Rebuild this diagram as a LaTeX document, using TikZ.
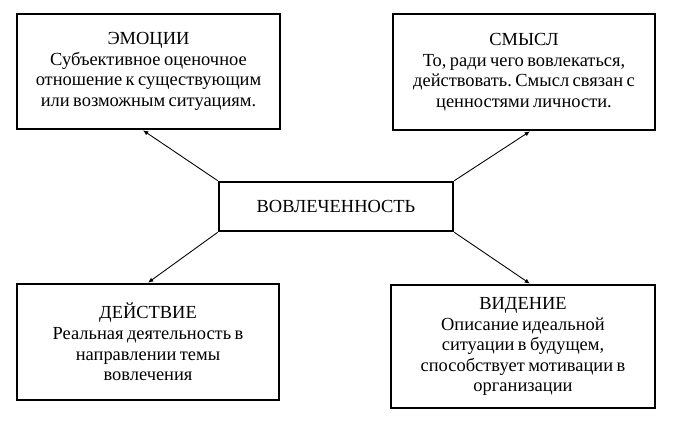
\documentclass[tikz,border=0pt]{standalone}
\usepackage{fontspec}
\setmainfont{Liberation Serif}[WordSpace=0.75]
\usetikzlibrary{arrows.meta}
\frenchspacing

\begin{document}
\begin{tikzpicture}[>={Latex[length=3pt, width=2.6pt]}, font=\fontsize{10.5}{11.7}\selectfont,
  box/.style={draw, line width=1.5pt, align=center, inner sep=0pt},
  link/.style={->, line width=0.5pt}]

% Frame
\useasboundingbox (0,0) rectangle (13.5,8.54);

% Centre
\node[box, minimum width=4.68cm, minimum height=0.98cm] (vovl) at (6.72,4.41) {ВОВЛЕЧЕННОСТЬ};

% Top boxes
\node[box, minimum width=5.26cm, minimum height=2.30cm] (emotsii) at (2.97,7.11)
  {ЭМОЦИИ\\Субъективное оценочное\\отношение к существующим\\или возможным ситуациям.};
\node[box, minimum width=5.24cm, minimum height=2.32cm] (smysl) at (10.48,7.10)
  {СМЫСЛ\\То, ради чего вовлекаться,\\действовать. Смысл связан с\\ценностями личности.};

% Bottom boxes
\node[box, minimum width=5.24cm, minimum height=2.32cm] (deystvie) at (2.96,1.70)
  {ДЕЙСТВИЕ\\Реальная деятельность в\\направлении темы\\вовлечения};
\node[box, minimum width=5.28cm, minimum height=2.46cm] (videnie) at (10.46,1.61)
  {ВИДЕНИЕ\\Описание идеальной\\ситуации в будущем,\\способствует мотивации в\\организации};

% Arrows
\draw[link] (vovl.north west) -- ([xshift=-0.11cm]emotsii.south);
\draw[link] (vovl.north east) -- ([xshift=0.12cm]smysl.south);
\draw[link] (vovl.south west) -- (deystvie.north);
\draw[link] (vovl.south east) -- ([xshift=0.14cm]videnie.north);

\end{tikzpicture}
\end{document}
